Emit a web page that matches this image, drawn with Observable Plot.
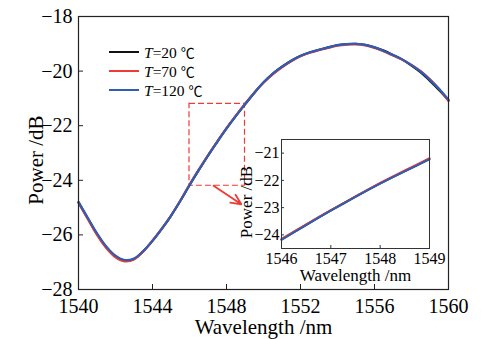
<!DOCTYPE html>
<html><head><meta charset="utf-8">
<script src="https://cdn.jsdelivr.net/npm/d3@7"></script>
<script src="https://cdn.jsdelivr.net/npm/@observablehq/plot@0.6"></script>
<style>
body{margin:0;background:#fff;}
#wrap{position:relative;width:486px;height:339px;font-family:"Liberation Serif","Times New Roman","DejaVu Serif",serif;color:#000;}
#wrap svg{position:absolute;max-width:none;}
#legend{position:absolute;left:109px;top:42.5px;font-size:15.5px;}
#legend .row{display:flex;align-items:center;height:19px;}
#legend .sw{display:inline-block;width:30px;height:2px;margin-right:5px;}
#legend .deg{font-family:"Noto Sans CJK SC",sans-serif;font-size:14px;}
</style></head><body><div id="wrap"><div id="legend"></div></div>
<script>
// ---- main curve data ----
const wavelength = [1540,1540.5,1541,1541.5,1542,1542.5,1543,1543.5,1544,1544.5,1545,1545.5,1546,1546.5,1547,1547.5,1548,1548.5,1549,1549.5,1550,1550.5,1551,1551.5,1552,1552.5,1553,1553.5,1554,1554.5,1555,1555.5,1556,1556.5,1557,1557.5,1558,1558.5,1559,1559.5,1560];
const powerT20 = [-24.80,-25.39,-25.97,-26.45,-26.79,-26.94,-26.88,-26.60,-26.22,-25.78,-25.30,-24.76,-24.18,-23.63,-23.10,-22.58,-22.10,-21.65,-21.22,-20.80,-20.42,-20.10,-19.84,-19.62,-19.45,-19.32,-19.22,-19.13,-19.05,-19.01,-19.00,-19.04,-19.13,-19.25,-19.41,-19.58,-19.80,-20.05,-20.36,-20.70,-21.07];
const powerT70 = [-24.82,-25.42,-26.00,-26.48,-26.82,-26.97,-26.90,-26.61,-26.20,-25.77,-25.29,-24.75,-24.16,-23.61,-23.08,-22.58,-22.09,-21.63,-21.19,-20.79,-20.43,-20.12,-19.86,-19.64,-19.46,-19.33,-19.23,-19.15,-19.07,-19.03,-19.02,-19.06,-19.15,-19.28,-19.43,-19.58,-19.77,-20.00,-20.30,-20.66,-21.10];
const powerT120 = [-24.80,-25.37,-25.94,-26.42,-26.76,-26.92,-26.86,-26.59,-26.22,-25.78,-25.30,-24.76,-24.18,-23.63,-23.10,-22.60,-22.11,-21.65,-21.22,-20.80,-20.41,-20.09,-19.84,-19.62,-19.44,-19.31,-19.22,-19.13,-19.05,-19.01,-19.00,-19.04,-19.13,-19.26,-19.41,-19.57,-19.78,-20.02,-20.32,-20.66,-21.05];
// ---- inset data ----
const insetWavelength = [1546,1546.25,1546.5,1546.75,1547,1547.25,1547.5,1547.75,1548,1548.25,1548.5,1548.75,1549];
const insetT20  = [-24.17,-23.90,-23.63,-23.37,-23.10,-22.84,-22.60,-22.35,-22.11,-21.88,-21.66,-21.44,-21.22];
const insetT70  = [-24.15,-23.88,-23.61,-23.35,-23.09,-22.85,-22.59,-22.34,-22.09,-21.86,-21.63,-21.41,-21.18];
const insetT120 = [-24.18,-23.91,-23.64,-23.37,-23.11,-22.86,-22.61,-22.36,-22.12,-21.89,-21.67,-21.45,-21.22];
// ---- series / ticks ----
const seriesTemps = [20, 70, 120];
const seriesNames = ["T=20 ℃", "T=70 ℃", "T=120 ℃"];
const seriesColors = ["#111111", "#ee3b34", "#2f5db3"];
const xTicks = [1540,1544,1548,1552,1556,1560];
const yTicks = [-28,-26,-24,-22,-20,-18];
const insetXTicks = [1546,1547,1548,1549];
const insetYTicks = [-24,-23,-22,-21];
// zoom window and arrow (data coordinates)
const zoomX = [1546, 1549];
const zoomY = [-24.2, -21.2];
const arrowFrom = [1547.3, -24.2];
const arrowTo = [1548.8, -24.88];

const fmt = d3.format("d");
const mainRows = [];
[powerT20, powerT70, powerT120].forEach((arr, s) => arr.forEach((p, i) => mainRows.push({wavelength: wavelength[i], power: p, series: seriesNames[s]})));
const insetRows = [];
[insetT20, insetT70, insetT120].forEach((arr, s) => arr.forEach((p, i) => insetRows.push({wavelength: insetWavelength[i], power: p, series: seriesNames[s]})));

const red = "#ee3b34";
const font = '"Liberation Serif","Times New Roman","DejaVu Serif",serif';

const W = 486, H = 339, mL = 78, mR = 38, mT = 16, mB = 50;
const main = Plot.plot({
  width: W, height: H, marginLeft: mL, marginRight: mR, marginTop: mT, marginBottom: mB,
  style: {fontFamily: font, fontSize: "20px", background: "transparent", color: "#000"},
  x: {domain: [1540, 1560]},
  y: {domain: [-28, -18]},
  color: {domain: seriesNames, range: seriesColors},
  marks: [
    Plot.rect([{x1: zoomX[0], x2: zoomX[1], y1: zoomY[0], y2: zoomY[1]}], {x1: "x1", x2: "x2", y1: "y1", y2: "y2", fill: "none", stroke: red, strokeWidth: 1.2, strokeDasharray: "6,3"}),
    Plot.arrow([{x1: arrowFrom[0], y1: arrowFrom[1], x2: arrowTo[0], y2: arrowTo[1]}], {x1: "x1", y1: "y1", x2: "x2", y2: "y2", stroke: red, strokeWidth: 1.8, headLength: 12, headAngle: 50}),
    Plot.line(mainRows, {x: "wavelength", y: "power", z: "series", stroke: "series", strokeWidth: 2.2, curve: "catmull-rom"}),
    Plot.frame({stroke: "#222", strokeWidth: 1.2}),
    Plot.tickX(xTicks, {x: d => d, insetTop: H - mT - mB - 5, stroke: "#222"}),
    Plot.tickY(yTicks, {y: d => d, insetRight: W - mL - mR - 5, stroke: "#222"}),
    Plot.axisX(xTicks, {tickSize: 0, tickPadding: 9, tickFormat: fmt, label: null}),
    Plot.axisY(yTicks, {tickSize: 0, tickPadding: 6, tickFormat: fmt, label: null}),
    Plot.text(["Wavelength /nm"], {frameAnchor: "bottom", lineAnchor: "middle", textAnchor: "middle", dy: 37.5, fontSize: 21}),
    Plot.text(["Power /dB"], {frameAnchor: "left", lineAnchor: "middle", textAnchor: "middle", dx: -42, dy: 7, rotate: -90, fontSize: 21})
  ]
});
main.style.left = "0px"; main.style.top = "0px";

const iW = 215, iH = 156, iL = 45, iR = 22, iT = 5, iB = 42;
const inset = Plot.plot({
  width: iW, height: iH, marginLeft: iL, marginRight: iR, marginTop: iT, marginBottom: iB,
  style: {fontFamily: font, fontSize: "16px", background: "transparent", color: "#000"},
  x: {domain: [1546, 1549]},
  y: {domain: [-24.5, -20.5]},
  color: {domain: seriesNames, range: seriesColors},
  marks: [
    Plot.frame({fill: "white", stroke: "none"}),
    Plot.line(insetRows, {x: "wavelength", y: "power", z: "series", stroke: "series", strokeWidth: 2}),
    Plot.frame({stroke: "#333", strokeWidth: 1}),
    Plot.tickX(insetXTicks, {x: d => d, insetTop: iH - iT - iB - 3, stroke: "#333"}),
    Plot.tickY(insetYTicks, {y: d => d, insetRight: iW - iL - iR - 3, stroke: "#333"}),
    Plot.axisX(insetXTicks, {tickSize: 0, tickPadding: 4, tickFormat: fmt, label: null}),
    Plot.axisY(insetYTicks, {tickSize: 0, tickPadding: 2, tickFormat: fmt, label: null}),
    Plot.text(["Wavelength /nm"], {frameAnchor: "bottom", lineAnchor: "middle", textAnchor: "middle", dy: 27, fontSize: 17}),
    Plot.text(["Power /dB"], {frameAnchor: "left", lineAnchor: "middle", textAnchor: "middle", dx: -35, dy: 8, rotate: -90, fontSize: 17})
  ]
});
inset.style.left = "236px"; inset.style.top = "134px";

const wrap = document.getElementById("wrap");
wrap.insertBefore(main, wrap.firstChild);
wrap.insertBefore(inset, document.getElementById("legend"));

const legend = document.getElementById("legend");
seriesTemps.forEach((t, i) => {
  const row = document.createElement("div");
  row.className = "row";
  row.innerHTML = `<span class="sw" style="background:${seriesColors[i]}"></span><span><i>T</i>=${t} <span class="deg">℃</span></span>`;
  legend.appendChild(row);
});
</script>
</body></html>
